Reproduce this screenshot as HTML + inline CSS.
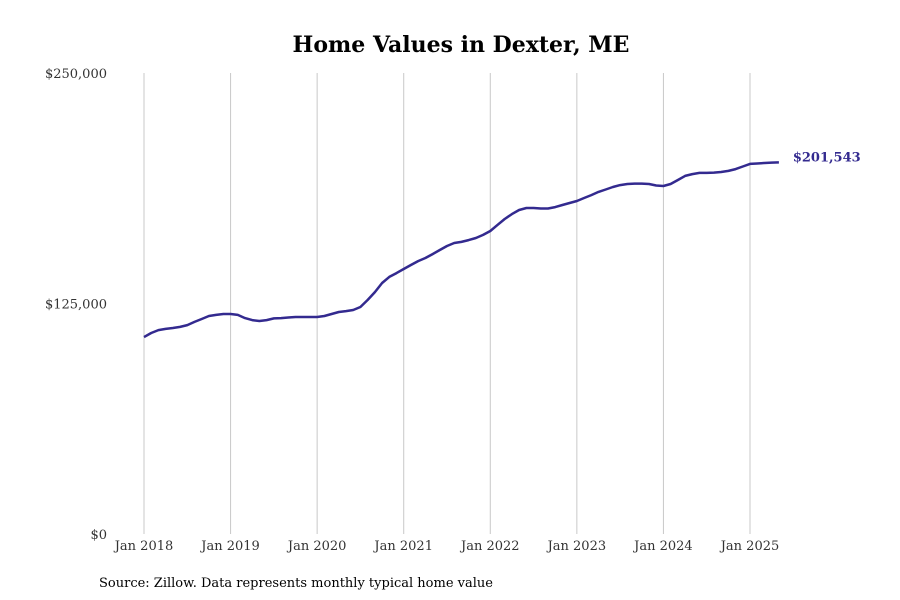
<!DOCTYPE html>
<html><head><meta charset="utf-8"><style>
body{margin:0;background:#fff;}
svg{display:block;font-family:"DejaVu Serif","Liberation Serif",serif;}
</style></head><body>
<svg width="900" height="600">
<text x="461" y="52" text-anchor="middle" font-size="22" font-weight="bold" fill="#000">Home Values in Dexter, ME</text>
<g id="grid"></g>
<g id="yt"></g>
<g id="xt"></g>
<path id="line" fill="none" stroke="#332a8f" stroke-width="2.5" stroke-linejoin="round"/>
<text id="lastlabel" font-size="13" font-weight="bold" fill="#332a8f"></text>
<text x="99" y="587" font-size="13" fill="#000">Source: Zillow. Data represents monthly typical home value</text>
</svg>
<script>
const years=["Jan 2018","Jan 2019","Jan 2020","Jan 2021","Jan 2022","Jan 2023","Jan 2024","Jan 2025"];
const yTicks=[0,125000,250000];
const yTickLabels=["$0","$125,000","$250,000"];
const values=[106.8,109,110.6,111.2,111.7,112.3,113.3,115,116.6,118.2,118.8,119.3,
119.3,118.8,117.1,116,115.5,116,116.9,117.1,117.4,117.7,117.7,117.7,
117.7,118.2,119.3,120.4,120.9,121.5,123.1,126.9,131.2,136.1,139.4,141.5,
143.7,145.9,148,149.7,151.8,154,156.2,157.8,158.4,159.4,160.5,162.2,
164.3,167.6,170.8,173.5,175.7,176.8,176.8,176.5,176.5,177.3,178.4,179.5,
180.6,182.2,183.8,185.5,186.8,188.2,189.2,189.8,190,190,189.8,189,
188.7,189.8,192,194.2,195.2,195.8,195.8,196,196.3,196.9,197.9,199.3,
200.7,200.9,201.2,201.4,201.543].map(v=>v*1000);
const lastLabel="$201,543";
const NS="http://www.w3.org/2000/svg";
const x=m=>144+m*(606/84);
const y=v=>534-v/250000*461;
const grid=document.getElementById('grid'),yt=document.getElementById('yt'),xt=document.getElementById('xt');
years.forEach((t,i)=>{
 const l=document.createElementNS(NS,'line');
 l.setAttribute('x1',x(i*12));l.setAttribute('x2',x(i*12));l.setAttribute('y1',73);l.setAttribute('y2',534);
 l.setAttribute('stroke','#c8c8c8');l.setAttribute('stroke-width','1');
 
 
 grid.appendChild(l);
 const tx=document.createElementNS(NS,'text');
 tx.setAttribute('x',x(i*12));tx.setAttribute('y',550);tx.setAttribute('text-anchor','middle');
 tx.setAttribute('font-size','13');tx.setAttribute('fill','#333');tx.textContent=t;
 
 
 xt.appendChild(tx);
});
yTicks.forEach((v,i)=>{
 const tx=document.createElementNS(NS,'text');
 tx.setAttribute('x',107);tx.setAttribute('y',y(v)+5);tx.setAttribute('text-anchor','end');
 tx.setAttribute('font-size','13');tx.setAttribute('fill','#333');tx.textContent=yTickLabels[i];
 
 
 yt.appendChild(tx);
});
document.getElementById('line').setAttribute('d',values.map((v,i)=>(i?'L':'M')+x(i).toFixed(1)+','+y(v).toFixed(1)).join(''));
const ll=document.getElementById('lastlabel');
ll.setAttribute('x',x(values.length-1)+14);ll.setAttribute('y',y(values[values.length-1])-1);
ll.textContent=lastLabel;
</script>
</body></html>
